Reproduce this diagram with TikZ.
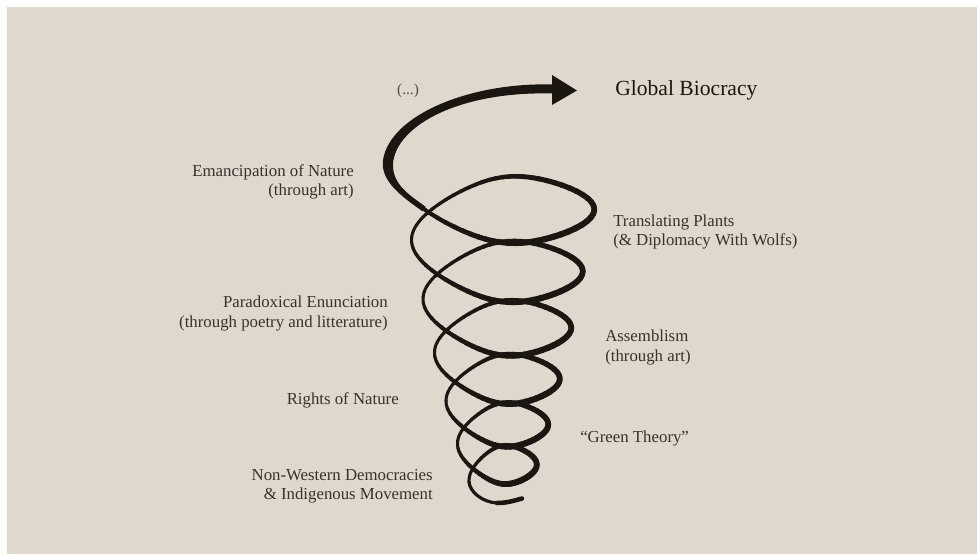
\documentclass[tikz,border=0pt]{standalone}
\usepackage{fontspec}
\setmainfont{Liberation Serif}
\definecolor{paper}{RGB}{225,216,205}
\definecolor{ink}{RGB}{28,22,19}
\definecolor{txt}{RGB}{55,50,45}
\begin{document}
\begin{tikzpicture}[x=0.75pt, y=-0.75pt,
  lbl/.style={text=txt, inner sep=0pt, font=\fontsize{12.6}{14.3}\selectfont},
  big/.style={text=ink, inner sep=0pt, font=\fontsize{16.2}{19}\selectfont},
  declare function={
    rr(\x)=100-11.5*\x;
    ph(\x)=360*\x+8*sin(720*\x);
    spx(\x)=500-rr(\x)*cos(ph(\x));
    spy(\x)=176+67.32*\x-2.72*\x*\x+0.75*(67.32-5.44*\x)*sin(360*\x);
    wd(\x)=3.0+1.3*(1-cos(360*\x))+1.3*max(0,sin(360*\x));
  }]
  \useasboundingbox (0,0) rectangle (977,554);
  \fill[white] (0,0) rectangle (977,554);
  \fill[paper] (7,7) rectangle (977,554);
  % the cone-shaped spiral, drawn in short strokes so its width can vary
  \foreach \k in {0,...,359} {
    \pgfmathsetmacro\sa{0.085+\k*5.915/360}
    \pgfmathsetmacro\sb{\sa+5.915/360+0.002}
    \pgfmathsetmacro\w{0.75*wd(\sa+2.96/360)}
    \draw[ink, line width=\w pt, line cap=round]
      plot[domain=\sa:\sb, samples=3] ({spx(\x)},{spy(\x)});
  }
  % tail at the bottom
  \draw[ink, line width=2.4pt, line cap=round] ({spx(6)},{spy(6)})
    .. controls (470,492) and (482,502) .. (497,503);
  \draw[ink, line width=3.4pt, line cap=round] (497,503)
    .. controls (508,503) and (516,500) .. (522,498.5);
  % the thick arrow leaving the top of the spiral
  \fill[ink] (553,84.5) .. controls (470,82) and (390,115) .. (383,160)
    .. controls (380,182) and (404,198) .. (422.4,211.2) -- (425.6,206.8)
    .. controls (409.6,194.8) and (392,185) .. (393,163)
    .. controls (397,125) and (460,91) .. (553,93.5) -- cycle;
  \coordinate (tip) at (577,90.5);
  \fill[ink] (552,75) -- (tip) -- (552,105) -- cycle;
  % labels
  \node[lbl, font=\fontsize{11.5}{13}\selectfont, text=txt!85!paper] (etc) at (408,91) {(...)};
  \node[big, anchor=west] (goal) at (615,90) {Global Biocracy};
  \node[lbl, anchor=east, align=right] (emanc) at (354,181.7) {Emancipation of Nature\\(through art)};
  \node[lbl, anchor=west, align=left] (plants) at (613,232) {Translating Plants\\(\& Diplomacy With Wolfs)};
  \node[lbl, anchor=east, align=right] (parad) at (388,313.5) {Paradoxical Enunciation\\(through poetry and litterature)};
  \node[lbl, anchor=west, align=left] (assem) at (605,347.5) {Assemblism\\(through art)};
  \node[lbl, anchor=east] (rights) at (399,400) {Rights of Nature};
  \node[lbl, anchor=west] (green) at (580,438) {“Green Theory”};
  \node[lbl, anchor=east, align=right] (nonwest) at (433,486) {Non-Western Democracies\\\& Indigenous Movement};
\end{tikzpicture}
\end{document}
